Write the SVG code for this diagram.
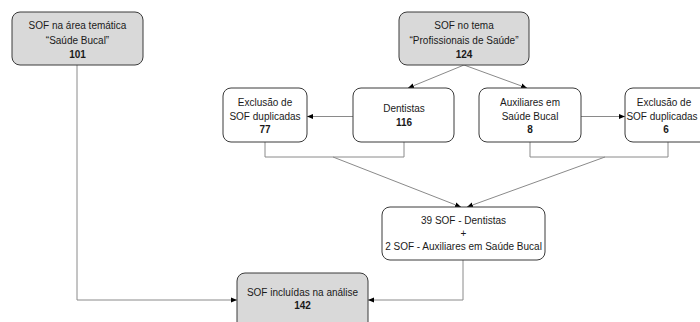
<svg xmlns="http://www.w3.org/2000/svg" width="700" height="322" viewBox="0 0 700 322">
<defs>
<marker id="ah" viewBox="0 0 6 6" refX="6" refY="3" markerWidth="6" markerHeight="6" markerUnits="userSpaceOnUse" orient="auto">
<path d="M0,0.5 L6,3 L0,5.5 Z" fill="#000"/>
</marker>
</defs>
<style>
.box{fill:#fff;stroke:#3a3a3a;stroke-width:1}
.gray{fill:#d9d9d9}
.c{fill:none;stroke:#8a8a8a;stroke-width:1}
.a{marker-end:url(#ah)}
text{font-family:"Liberation Sans",Arial,sans-serif;font-size:10px;fill:#1a1a1a;text-anchor:middle}
.b{font-weight:bold}
</style>
<rect width="700" height="322" fill="#fff"/>
<g id="connectors">
<path class="c a" d="M77 65 V300 H237"/>
<path class="c a" d="M464 65 L408 88"/>
<path class="c a" d="M464 65 L527 88"/>
<path class="c a" d="M353 116.5 H307"/>
<path class="c a" d="M581 116.5 H625"/>
<path class="c" d="M265 142 V157 H404 V142"/>
<path class="c" d="M530 142 V157 H668 V142"/>
<path class="c a" d="M333 157 L461 207"/>
<path class="c a" d="M605 157 L467 207"/>
<path class="c a" d="M463 260 V300 H368"/>
</g>
<g id="n1">
<rect class="box gray" x="12" y="12" width="131" height="53" rx="8"/>
<text x="77.5" y="29">SOF na área temática</text>
<text x="77.5" y="44">“Saúde Bucal”</text>
<text class="b" x="77.5" y="58">101</text>
</g>
<g id="n2">
<rect class="box gray" x="399" y="12" width="130" height="53" rx="8"/>
<text x="464" y="29">SOF no tema</text>
<text x="464" y="44">“Profissionais de Saúde”</text>
<text class="b" x="464" y="58">124</text>
</g>
<g id="n3">
<rect class="box" x="353" y="88" width="101" height="54" rx="8"/>
<text x="404" y="112">Dentistas</text>
<text class="b" x="404" y="126">116</text>
</g>
<g id="n4">
<rect class="box" x="479" y="88" width="102" height="54" rx="8"/>
<text x="530" y="106">Auxiliares em</text>
<text x="530" y="120">Saúde Bucal</text>
<text class="b" x="530" y="133">8</text>
</g>
<g id="n5">
<rect class="box" x="223" y="88" width="84" height="54" rx="8"/>
<text x="265" y="106">Exclusão de</text>
<text x="265" y="120">SOF duplicadas</text>
<text class="b" x="265" y="133">77</text>
</g>
<g id="n6">
<rect class="box" x="625" y="88" width="84" height="54" rx="8"/>
<text x="664" y="106">Exclusão de</text>
<text x="662" y="120">SOF duplicadas</text>
<text class="b" x="666" y="133">6</text>
</g>
<g id="n7">
<rect class="box" x="382" y="207" width="163" height="53" rx="8"/>
<text x="463.5" y="224">39 SOF - Dentistas</text>
<text x="463.5" y="237">+</text>
<text x="463.5" y="250">2 SOF - Auxiliares em Saúde Bucal</text>
</g>
<g id="n8">
<rect class="box gray" x="237" y="273" width="131" height="60" rx="8"/>
<text x="302.5" y="296">SOF incluídas na análise</text>
<text class="b" x="302.5" y="309">142</text>
</g>
</svg>
